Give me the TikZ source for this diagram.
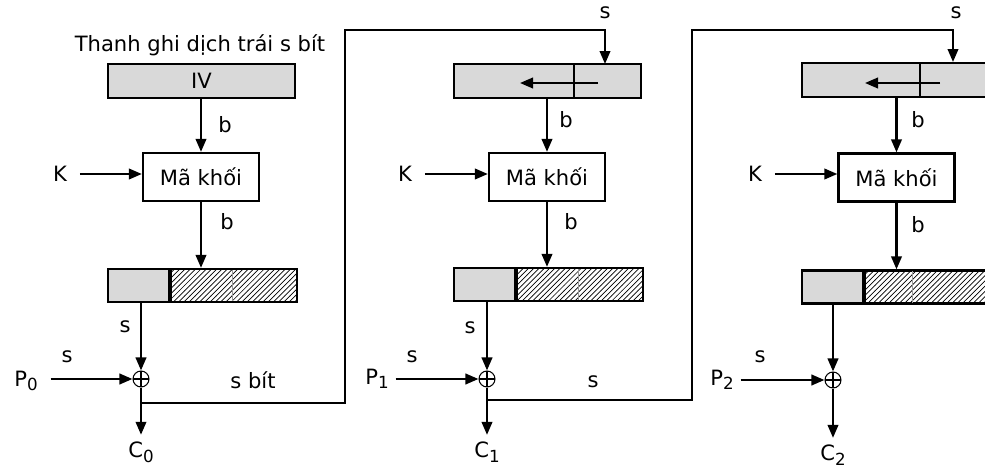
\documentclass[tikz,border=0pt]{standalone}
\usepackage{fontspec}
\setmainfont{DejaVu Sans}
\usetikzlibrary{arrows.meta,patterns}
\newcommand\lowidx[1]{\raisebox{-0.4ex}{\fontsize{9.5}{11}\selectfont#1}}

\begin{document}
\begin{tikzpicture}[x=0.02cm, y=-0.02cm, line width=1.3pt,
    font=\fontsize{12}{14}\selectfont,
    arr/.style={-{Triangle[length=2.6mm,width=2.1mm]}},
    reg/.style={draw, fill=black!15, minimum width=3.74cm, minimum height=0.68cm, inner sep=0pt},
    cipher/.style={draw, fill=white, minimum width=2.32cm, minimum height=0.96cm},
    half/.style={draw, fill=black!15, minimum width=1.22cm, minimum height=0.66cm, inner sep=0pt},
    hatch/.style={draw, pattern=north east lines, minimum width=2.52cm, minimum height=0.66cm, inner sep=0pt, anchor=west},
    xor/.style={circle, draw, line width=0.6pt, minimum size=0.32cm, inner sep=0pt,
      path picture={\draw[line width=0.6pt] (path picture bounding box.north) -- (path picture bounding box.south)
        (path picture bounding box.west) -- (path picture bounding box.east);}}]
    \useasboundingbox (0,0) rectangle (985,470);
    \clip (0,0) rectangle (985,470);

    % stage 0
    \node (t1) at (200,45) {Thanh ghi dịch trái s bít};
    \node[reg] (iv) at (201.5,81) {IV};
    \node[cipher] (e1) at (201,177) {Mã khối};
    \node (k1) at (60,174) {K};
    \node[half] (g1) at (138.5,285.5) {};
    \node[hatch] (h1) at (g1.east) {};
    \node[xor] (x1) at (141,379) {};
    \node (p1) at (26,381) {P\lowidx{0}};
    \node (c1) at (141,452) {C\lowidx{0}};
    \node (b1) at (225,125) {b};
    \node (b2) at (227,222) {b};
    \node (s1) at (125,327) {s};
    \node (s2) at (67,357) {s};
    \node (s3) at (253,380) {s bít};
    \node (s4) at (605,13) {s};
    \coordinate (j1) at (141,403);
    \coordinate (u1) at (345,30);
    \coordinate (t2) at (605,64);
    \draw[black!40, thin] (232,270) -- (232,301);
    \draw[arr] (iv.south -| e1) -- (e1.north);
    \draw[arr] (k1.east) ++(6,0) -- (e1.west |- k1);
    \draw[arr] (e1.south) -- (e1.south |- h1.north);
    \draw[arr] (x1 |- g1.south) -- (x1.north);
    \draw[arr] (p1.east |- x1) ++(6,0) -- (x1.west);
    \draw[arr] (x1.south) -- (c1.north);
    \draw[arr] (j1) -| (u1) -| (t2);

    % stage 1
    \node[reg] (r2) at (547.5,81) {};
    \node[cipher] (e2) at (547,177) {Mã khối};
    \node (k2) at (405,174) {K};
    \node[half] (g2) at (484.5,284.5) {};
    \node[hatch] (h2) at (g2.east) {};
    \node[xor] (x2) at (487,379) {};
    \node (p2) at (377,379) {P\lowidx{1}};
    \node (c2) at (487,452) {C\lowidx{1}};
    \node (b3) at (566,120) {b};
    \node (b4) at (571,222) {b};
    \node (s5) at (470,328) {s};
    \node (s6) at (412,357) {s};
    \node (s7) at (593,382) {s};
    \node (s8) at (956,13) {s};
    \coordinate (j2) at (487,400);
    \coordinate (u2) at (692,30);
    \coordinate (t3) at (953,62);
    \draw (574,64) -- (574,98);
    \draw[arr] (598,83) -- (520,83);
    \draw[black!40, thin] (578,269) -- (578,300);
    \draw[arr] (r2.south -| e2) -- (e2.north);
    \draw[arr] (k2.east) ++(6,0) -- (e2.west |- k2);
    \draw[arr] (e2.south) -- (e2.south |- h2.north);
    \draw[arr] (x2 |- g2.south) -- (x2.north);
    \draw[arr] (p2.east |- x2) -- (x2.west);
    \draw[arr] (x2.south) -- (c2.north);
    \draw[arr] (j2) -| (u2) -| (t3);

    % stage 2
    \node[reg] (r3) at (895.5,80) {};
    \node[cipher] (e3) at (896.5,177.5) {Mã khối};
    \node (k3) at (755,174) {K};
    \node[half] (g3) at (832.5,287) {};
    \node[hatch] (h3) at (g3.east) {};
    \node[xor] (x3) at (833,380) {};
    \node (p3) at (722,380) {P\lowidx{2}};
    \node (c3) at (833,455) {C\lowidx{2}};
    \node (b5) at (918,120) {b};
    \node (b6) at (918,225) {b};
    \node (s9) at (760,357) {s};
    \draw (920,63) -- (920,97);
    \draw[arr] (940,83) -- (865,83);
    \draw[black!40, thin] (912,271) -- (912,303);
    \draw[arr] (r3.south -| e3) -- (e3.north);
    \draw[arr] (k3.east) ++(6,0) -- (e3.west |- k3);
    \draw[arr] (e3.south) -- (e3.south |- h3.north);
    \draw[arr] (x3 |- g3.south) -- (x3.north);
    \draw[arr] (p3.east |- x3) -- (x3.west);
    \draw[arr] (x3.south) -- (c3.north);
\end{tikzpicture}
\end{document}
